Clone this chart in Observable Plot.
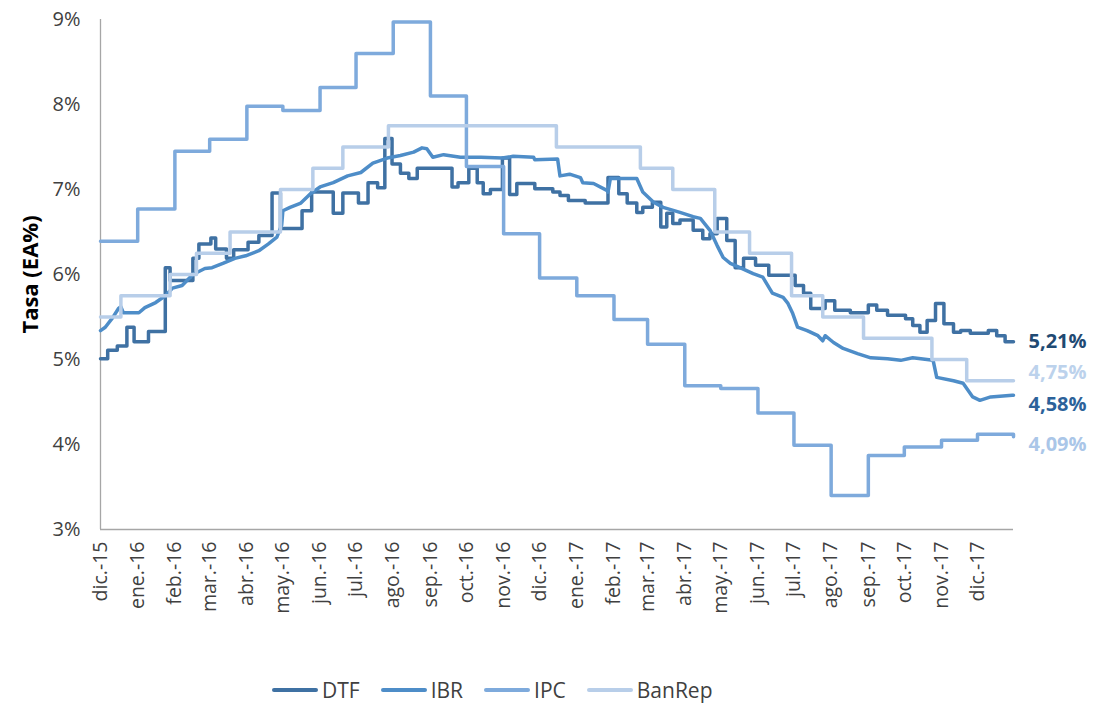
<!DOCTYPE html>
<html><head><meta charset="utf-8">
<script src="https://cdn.jsdelivr.net/npm/d3@7"></script>
<script src="https://cdn.jsdelivr.net/npm/@observablehq/plot@0.6"></script>
<style>
body{margin:0;background:#fff;font-family:"Open Sans",sans-serif;}
#chart svg{display:block;}
#legend{position:relative;height:40px;display:flex;align-items:center;padding-left:272px;font-size:21px;color:#404040;}
.item{display:flex;align-items:center;margin-right:21px;}
.sw{display:inline-block;width:46px;height:3.5px;border-radius:2px;margin-right:4px;}
</style></head><body>
<div id="chart"></div>
<div id="legend"></div>
<script>
// ---------------- DATA ----------------
const seriesNames = ["DTF", "IBR", "IPC", "BanRep"];
const seriesColors = ["#3f71a3", "#4e8dc8", "#7eaadc", "#b8cee9"];

const dtfDates = ["2015-12-01","2015-12-07","2015-12-15","2015-12-23","2015-12-29","2016-01-10","2016-01-24","2016-01-28","2016-02-16","2016-02-21","2016-03-02","2016-03-06","2016-03-15","2016-03-21","2016-04-02","2016-04-11","2016-04-22","2016-04-29","2016-05-17","2016-05-25","2016-06-12","2016-06-20","2016-07-03","2016-07-11","2016-07-19","2016-07-25","2016-07-31","2016-08-07","2016-08-14","2016-08-21","2016-09-19","2016-09-24","2016-10-03","2016-10-10","2016-10-15","2016-10-21","2016-10-31","2016-11-06","2016-11-12","2016-11-27","2016-12-12","2016-12-18","2016-12-25","2017-01-08","2017-01-27","2017-02-05","2017-02-12","2017-02-20","2017-02-25","2017-03-05","2017-03-12","2017-03-17","2017-03-22","2017-03-28","2017-04-08","2017-04-16","2017-04-22","2017-04-28","2017-05-06","2017-05-13","2017-05-20","2017-05-30","2017-06-10","2017-07-02","2017-07-09","2017-07-15","2017-07-27","2017-08-04","2017-08-17","2017-09-01","2017-09-08","2017-09-17","2017-10-02","2017-10-08","2017-10-14","2017-10-20","2017-10-27","2017-11-03","2017-11-11","2017-11-17","2017-11-25","2017-12-10","2017-12-17","2017-12-24","2017-12-31"];
const dtfValues = [5.01,5.11,5.16,5.38,5.21,5.33,6.08,5.93,6.19,6.36,6.43,6.30,6.19,6.29,6.38,6.46,6.96,6.54,6.75,6.97,6.72,6.96,6.84,7.08,7.02,7.60,7.30,7.19,7.13,7.25,7.03,7.08,7.25,7.08,6.95,7.00,7.37,6.94,7.07,7.01,6.97,6.93,6.87,6.84,7.14,6.95,6.84,6.73,6.79,6.85,6.56,6.72,6.60,6.64,6.52,6.42,6.48,6.66,6.40,6.08,6.19,6.11,5.99,5.87,5.78,5.60,5.69,5.58,5.55,5.64,5.58,5.52,5.48,5.40,5.32,5.46,5.66,5.42,5.32,5.34,5.31,5.34,5.28,5.21,5.21];

const ibrDates = ["2015-12-01","2015-12-05","2015-12-11","2015-12-16","2015-12-18","2015-12-20","2016-01-02","2016-01-07","2016-01-16","2016-01-24","2016-01-30","2016-02-07","2016-02-16","2016-02-26","2016-03-03","2016-03-12","2016-03-22","2016-03-31","2016-04-11","2016-04-19","2016-04-26","2016-04-30","2016-05-01","2016-05-07","2016-05-16","2016-05-24","2016-06-01","2016-06-12","2016-06-24","2016-07-05","2016-07-15","2016-07-27","2016-08-07","2016-08-18","2016-08-25","2016-08-29","2016-09-03","2016-09-12","2016-09-26","2016-10-13","2016-10-31","2016-11-09","2016-11-26","2016-11-27","2016-12-16","2016-12-18","2016-12-26","2017-01-04","2017-01-06","2017-01-15","2017-01-26","2017-01-27","2017-01-29","2017-02-20","2017-02-25","2017-03-06","2017-03-14","2017-03-28","2017-04-08","2017-04-14","2017-04-22","2017-04-28","2017-05-03","2017-05-09","2017-05-17","2017-05-28","2017-06-05","2017-06-13","2017-06-22","2017-06-26","2017-06-30","2017-07-04","2017-07-12","2017-07-21","2017-07-25","2017-07-27","2017-08-03","2017-08-11","2017-08-23","2017-09-03","2017-09-17","2017-09-28","2017-10-08","2017-10-25","2017-10-28","2017-11-11","2017-11-19","2017-11-27","2017-12-03","2017-12-12","2017-12-30","2017-12-31"];
const ibrValues = [5.34,5.38,5.49,5.60,5.62,5.55,5.55,5.61,5.67,5.75,5.84,5.87,6.00,6.07,6.08,6.13,6.19,6.22,6.28,6.36,6.44,6.58,6.75,6.79,6.84,6.95,7.03,7.08,7.16,7.20,7.31,7.37,7.40,7.44,7.49,7.48,7.38,7.41,7.38,7.38,7.37,7.39,7.38,7.35,7.36,7.16,7.18,7.14,7.08,7.07,6.99,6.97,7.13,7.13,6.97,6.85,6.79,6.73,6.68,6.66,6.52,6.34,6.20,6.13,6.08,6.01,5.97,5.78,5.73,5.66,5.54,5.38,5.34,5.28,5.22,5.28,5.20,5.13,5.07,5.02,5.01,4.99,5.02,4.99,4.79,4.75,4.72,4.56,4.52,4.56,4.58,4.58];

const ipcDates = ["2015-12-01","2016-01-01","2016-02-01","2016-03-01","2016-04-01","2016-05-01","2016-06-01","2016-07-01","2016-08-01","2016-09-01","2016-10-01","2016-11-01","2016-12-01","2017-01-01","2017-02-01","2017-03-01","2017-04-01","2017-05-01","2017-06-01","2017-07-01","2017-08-01","2017-09-01","2017-10-01","2017-11-01","2017-12-01","2017-12-30","2017-12-31"];
const ipcValues = [6.39,6.77,7.45,7.59,7.98,7.93,8.20,8.60,8.97,8.10,7.27,6.48,5.96,5.75,5.47,5.18,4.69,4.66,4.37,3.99,3.40,3.87,3.97,4.05,4.12,4.12,4.09];

const banrepDates = ["2015-12-01","2015-12-18","2016-01-28","2016-02-19","2016-03-18","2016-04-29","2016-05-26","2016-06-20","2016-07-28","2016-12-15","2017-02-23","2017-03-22","2017-04-26","2017-05-25","2017-06-29","2017-07-25","2017-08-28","2017-10-24","2017-11-22","2017-12-31"];
const banrepValues = [5.50,5.75,6.00,6.25,6.50,7.00,7.25,7.50,7.75,7.50,7.25,7.00,6.50,6.25,5.75,5.50,5.25,5.00,4.75,4.75];

const monthLabels = ["dic.-15","ene.-16","feb.-16","mar.-16","abr.-16","may.-16","jun.-16","jul.-16","ago.-16","sep.-16","oct.-16","nov.-16","dic.-16","ene.-17","feb.-17","mar.-17","abr.-17","may.-17","jun.-17","jul.-17","ago.-17","sep.-17","oct.-17","nov.-17","dic.-17"];
const yTicks = [3, 4, 5, 6, 7, 8, 9];

const endLabels = ["5,21%", "4,75%", "4,58%", "4,09%"];
const endValues = [5.21, 4.75, 4.58, 4.09];
const endColors = ["#1f4a73", "#bcd2ec", "#2c629a", "#aac6e8"];
const endShift = [0, -8, 9, 8];

// ---------------- BUILD ----------------
const parse = d3.utcParse("%Y-%m-%d");
const start = parse("2015-12-01"), end = parse("2017-12-31");
const tickDates = d3.utcMonth.range(start, d3.utcDay.offset(parse("2017-12-01"), 1));

const mk = (dates, values) => dates.map((d, i) => ({date: parse(d), value: values[i]}));
const lines = [
  {data: mk(dtfDates, dtfValues), curve: "step-after"},
  {data: mk(ibrDates, ibrValues), curve: "linear"},
  {data: mk(ipcDates, ipcValues), curve: "step-after"},
  {data: mk(banrepDates, banrepValues), curve: "step-after"}
];
const ends = endLabels.map((t, i) => ({label: t, value: endValues[i], color: endColors[i], shift: endShift[i]}));

const chart = Plot.plot({
  width: 1102, height: 670,
  marginLeft: 100, marginRight: 89, marginTop: 19, marginBottom: 141,
  style: {fontFamily: "'Open Sans', sans-serif", background: "#fff"},
  x: {type: "utc", domain: [start, end]},
  y: {domain: [3, 9]},
  marks: [
    Plot.ruleX([start], {y1: 3, y2: 9, stroke: "#a6a6a6", strokeWidth: 1.3}),
    Plot.ruleY([3], {x1: start, x2: end, stroke: "#a6a6a6", strokeWidth: 1.3}),
    Plot.axisY({ticks: yTicks, tickFormat: d => d + "%", tickSize: 0, tickPadding: 20, fontSize: 20, label: null, color: "#404040"}),
    Plot.axisX({ticks: tickDates, tickFormat: (d, i) => monthLabels[i], tickSize: 0, tickPadding: 12, tickRotate: -90, fontSize: 19.5, label: null, color: "#404040"}),
    Plot.text(["Tasa (EA%)"], {frameAnchor: "left", dx: -70, rotate: -90, fontSize: 22, fontWeight: "bold", fill: "#000", textAnchor: "middle", lineAnchor: "middle"}),
    ...lines.map((s, i) => Plot.line(s.data, {x: "date", y: "value", curve: s.curve, stroke: seriesColors[i], strokeWidth: 3.5})),
    ...ends.map(e => Plot.text([e], {x: () => end, y: "value", text: "label", fill: e.color, dx: 15, dy: e.shift, textAnchor: "start", fontSize: 20, fontWeight: "bold"}))
  ]
});
document.getElementById("chart").appendChild(chart);

const legend = document.getElementById("legend");
seriesNames.forEach((n, i) => {
  const it = document.createElement("div"); it.className = "item";
  const sw = document.createElement("span"); sw.className = "sw"; sw.style.background = seriesColors[i];
  const tx = document.createElement("span"); tx.textContent = n;
  it.appendChild(sw); it.appendChild(tx); legend.appendChild(it);
});
</script>
</body></html>
